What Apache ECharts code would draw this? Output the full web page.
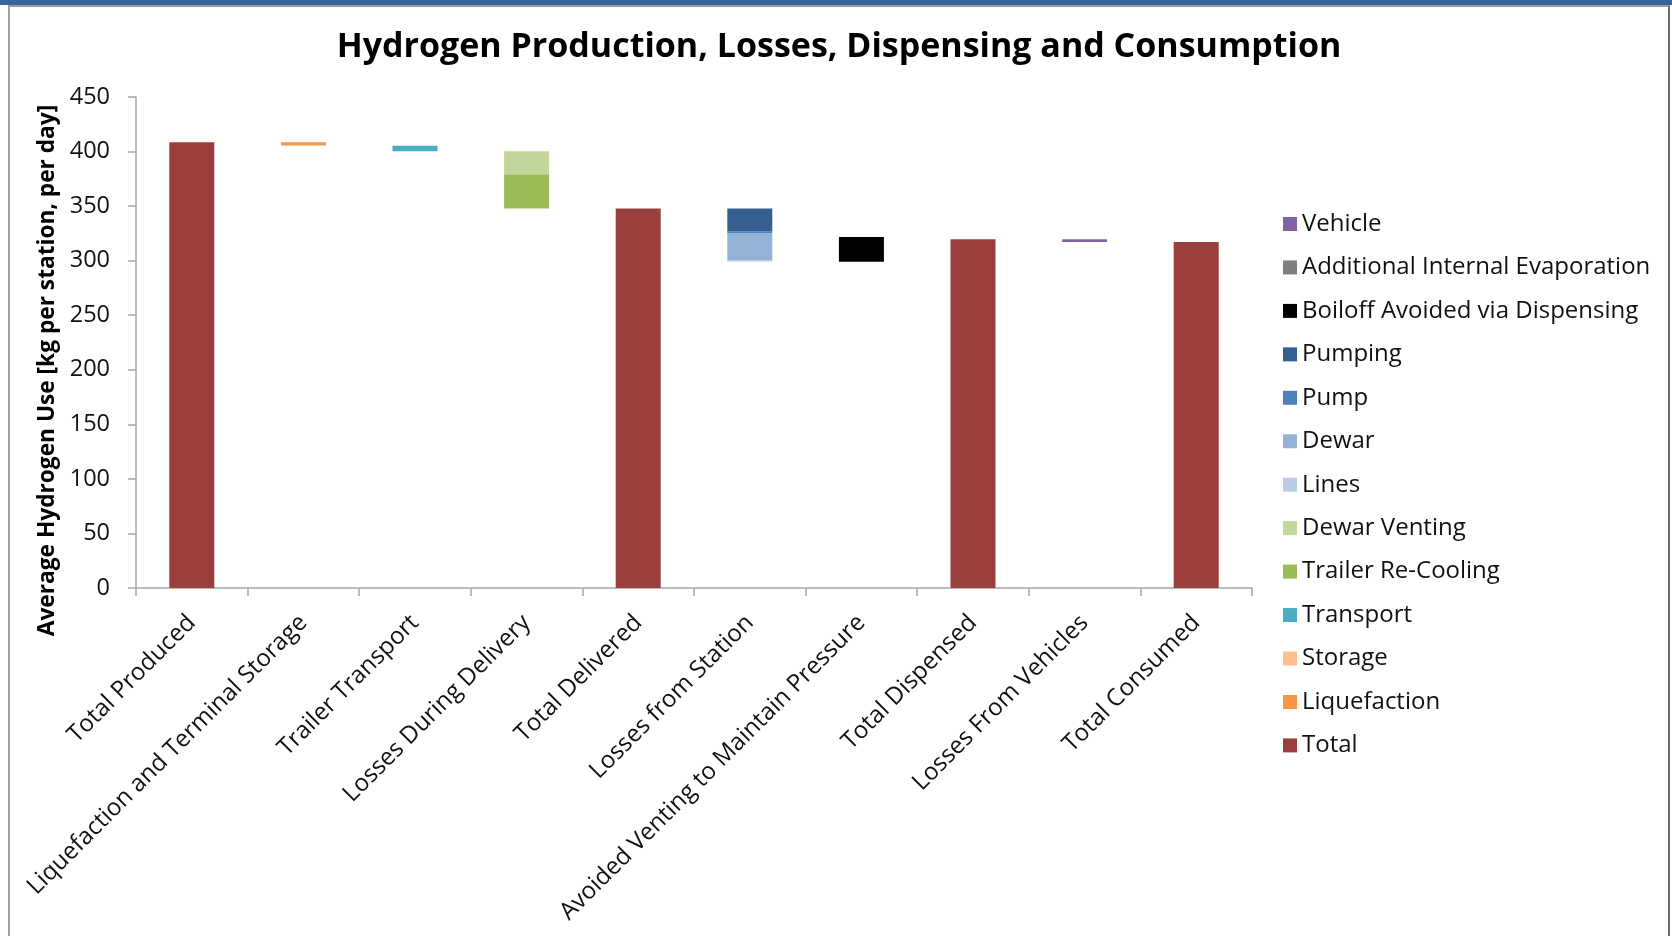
<!DOCTYPE html>
<html>
<head>
<meta charset="utf-8">
<title>Hydrogen Production, Losses, Dispensing and Consumption</title>
<script src="https://cdn.jsdelivr.net/npm/echarts@6/dist/echarts.min.js"></script>
<style>
  html, body { margin: 0; padding: 0; background: #fff; }
  #frame {
    position: absolute; left: 0; top: 0; width: 1672px; height: 936px;
    box-sizing: border-box; border-top: 5px solid #37629A;
  }
  #chart {
    position: absolute; left: 8px; top: 0; width: 1662px; height: 931px;
    box-sizing: border-box;
    border-top: 2px solid #9a9a9a;
    border-left: 2px solid #a0a0a0;
    border-right: 2px solid #6a6a6a;
  }
</style>
</head>
<body>
<div id="frame"><div id="chart"></div></div>
<script>
// Categories along the flow from production to consumption
const categories = [
  'Total Produced',
  'Liquefaction and Terminal Storage',
  'Trailer Transport',
  'Losses During Delivery',
  'Total Delivered',
  'Losses from Station',
  'Avoided Venting to Maintain Pressure',
  'Total Dispensed',
  'Losses From Vehicles',
  'Total Consumed'
];

// Invisible offset that lifts each loss segment to where it sits in the waterfall
const offset = [0, 405.6, 400.2, 347.8, 0, 299.2, 299.0, 0, 317.0, 0];

// Stacked components (kg per station, per day)
const total              = [408.6, null, null, null, 347.8, null, null, 319.6, null, 317.0];
const liquefaction       = [null, 3.0, null, null, null, null, null, null, null, null];
const storage            = [null, 0.2, null, null, null, null, null, null, null, null];
const transport          = [null, null, 5.2, null, null, null, null, null, null, null];
const trailerReCooling   = [null, null, null, 31.5, null, null, null, null, null, null];
const dewarVenting       = [null, null, null, 21.0, null, null, null, null, null, null];
const lines              = [null, null, null, null, null, 1.2, null, null, null, null];
const dewar              = [null, null, null, null, null, 25.0, null, null, null, null];
const pump               = [null, null, null, null, null, 1.3, null, null, null, null];
const pumping            = [null, null, null, null, null, 21.0, null, null, null, null];
const boiloffAvoided     = [null, null, null, null, null, null, 22.6, null, null, null];
const additionalEvap     = [null, null, null, null, null, null, null, null, null, null];
const vehicle            = [null, null, null, null, null, null, null, null, 2.6, null];

// Y axis ticks
const yMin = 0, yMax = 450, yStep = 50;

// Series in stacking order, bottom to top
const parts = [
  { name: 'Total', data: total, color: '#9B3F3C' },
  { name: 'Liquefaction', data: liquefaction, color: '#F79646' },
  { name: 'Storage', data: storage, color: '#FAC090' },
  { name: 'Transport', data: transport, color: '#4BACC6' },
  { name: 'Trailer Re-Cooling', data: trailerReCooling, color: '#9BBB59' },
  { name: 'Dewar Venting', data: dewarVenting, color: '#C3D69B' },
  { name: 'Lines', data: lines, color: '#B9CDE5' },
  { name: 'Dewar', data: dewar, color: '#95B3D7' },
  { name: 'Pump', data: pump, color: '#4F81BD' },
  { name: 'Pumping', data: pumping, color: '#365F91' },
  { name: 'Boiloff Avoided via Dispensing', data: boiloffAvoided, color: '#000000' },
  { name: 'Additional Internal Evaporation', data: additionalEvap, color: '#7F7F7F' },
  { name: 'Vehicle', data: vehicle, color: '#8064A2' }
];

const FONT = '"Open Sans", "Liberation Sans", sans-serif';
const chart = echarts.init(document.getElementById('chart'), null, { renderer: 'canvas' });

const series = [{
  name: 'offset', type: 'bar', stack: 'flow', data: offset,
  barWidth: 45, silent: true,
  itemStyle: { color: 'transparent' }, emphasis: { disabled: true }
}].concat(parts.map(p => ({
  name: p.name, type: 'bar', stack: 'flow', data: p.data, barWidth: 45,
  itemStyle: { color: p.color }
})));

chart.setOption({
  animation: false,
  title: {
    text: 'Hydrogen Production, Losses, Dispensing and Consumption',
    left: 'center', top: 18,
    textStyle: { fontFamily: FONT, fontWeight: 'bold', fontSize: 34, color: '#000' }
  },
  grid: { left: 126, right: 416, top: 90, bottom: 348, containLabel: false },
  legend: {
    orient: 'vertical', left: 1268, top: 199,
    data: parts.map(p => p.name).reverse(),
    icon: 'rect', itemWidth: 14, itemHeight: 14, itemGap: 17.45, itemTextGap: 9,
    textStyle: { fontFamily: FONT, fontSize: 24, color: '#111', lineHeight: 26 }
  },
  xAxis: {
    type: 'category', data: categories,
    axisLine: { lineStyle: { color: '#A6A6A6', width: 1.5 } },
    axisTick: { show: true, length: 8, lineStyle: { color: '#A6A6A6', width: 1.5 } },
    axisLabel: {
      interval: 0, rotate: 45, margin: 31,
      fontFamily: FONT, fontSize: 24, color: '#111'
    }
  },
  yAxis: {
    type: 'value', min: yMin, max: yMax, interval: yStep,
    name: 'Average Hydrogen Use [kg per station, per day]',
    nameLocation: 'middle', nameRotate: 90, nameGap: 73,
    nameTextStyle: {
      fontFamily: FONT, fontWeight: 'bold', fontSize: 22.7, color: '#000',
      padding: [0, 56, 0, 0]
    },
    axisLine: { show: true, lineStyle: { color: '#A6A6A6', width: 1.5 } },
    axisTick: { show: true, length: 8, lineStyle: { color: '#A6A6A6', width: 1.5 } },
    splitLine: { show: false },
    axisLabel: { margin: 26, fontFamily: FONT, fontSize: 23.5, color: '#111' }
  },
  series: series
});
</script>
</body>
</html>
